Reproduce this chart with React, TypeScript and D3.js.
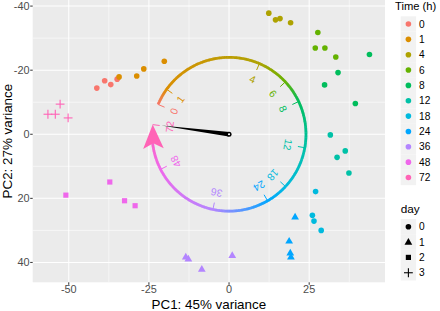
import React from 'react';
import * as d3 from 'd3';

const timeLevels = ['0', '1', '4', '6', '8', '12', '18', '24', '36', '48', '72'];
const timeColors = ['#F8766D', '#DB8E00', '#AEA200', '#64B200', '#00BD5C', '#00C1A7', '#00BADE', '#00A6FF', '#B385FF', '#EF67EB', '#FF63B6'];
const dayLevels = ['0', '1', '2', '3'];

// each sample: time level index, day, PC1, PC2
const sampleTime = [0, 0, 0, 0, 1, 1, 1, 1, 2, 2, 2, 2, 3, 3, 3, 3, 4, 4, 4, 4, 5, 5, 5, 5, 6, 6, 6, 6, 7, 7, 7, 7, 8, 8, 8, 8, 9, 9, 9, 9, 10, 10, 10, 10];
const sampleDay = [0, 0, 0, 0, 0, 0, 0, 0, 0, 0, 0, 0, 0, 0, 0, 0, 0, 0, 0, 0, 0, 0, 0, 0, 0, 0, 0, 0, 1, 1, 1, 1, 1, 1, 1, 1, 2, 2, 2, 2, 3, 3, 3, 3];
const samplePC1 = [-41.25, -38.8, -36.9, -34.9, -34.3, -28.8, -26.6, -20.2, 12.4, 14.5, 15.9, 19.2, 27.7, 26.9, 29.9, 33.3, 34.0, 29.8, 39.4, 43.8, 31.6, 36.25, 33.7, 37.4, 27.0, 26.0, 26.5, 28.75, 20.6, 18.75, 19.1, 19.3, -13.5, -12.7, -8.5, 1.0, -50.9, -37.2, -32.6, -29.3, -56.5, -54.2, -52.7, -50.2];
const samplePC2 = [-14.4, -16.7, -15.5, -17.2, -17.9, -18.2, -20.4, -22.8, -37.8, -35.7, -36.1, -34.8, -31.75, -26.9, -26.9, -24.1, -19.25, -15.4, -9.6, -24.9, 0.2, 5.2, 7.2, 12.1, 17.9, 25.3, 27.1, 30.0, 25.75, 33.3, 37.0, 38.25, 38.25, 38.9, 42.1, 37.8, 19.0, 14.9, 20.75, 22.3, -6.25, -6.25, -9.4, -5.1];

const xTicks = [-50, -25, 0, 25];
const xMinor = [-37.5, -12.5, 12.5, 37.5];
const yTicks = [-40, -20, 0, 20, 40];
const yMinor = [-30, -10, 10, 30];

const clockRadius = 24;
const needleTip = [-21.1, -2.7];

const xLabel = 'PC1: 45% variance';
const yLabel = 'PC2: 27% variance';
const timeTitle = 'Time (h)';
const dayTitle = 'day';

const FONT = '"Liberation Sans", Arial, Helvetica, sans-serif';

const P = { left: 32.7, right: 385, top: 0, bottom: 282.3 };
const x = d3.scaleLinear().domain([-61.25, 48.65]).range([P.left, P.right]);
const y = d3.scaleLinear().domain([-41.9, 46.2]).range([P.top, P.bottom]);

function Mark({ day, cx, cy, color }: { day: number; cx: number; cy: number; color: string }) {
  if (day === 0) return <circle cx={cx} cy={cy} r={2.8} fill={color} />;
  if (day === 1) {
    const p = d3.symbol().type(d3.symbolTriangle).size(26)()!;
    return <path d={p} transform={`translate(${cx},${cy + 0.4})`} fill={color} />;
  }
  if (day === 2) {
    const p = d3.symbol().type(d3.symbolSquare).size(27)()!;
    return <path d={p} transform={`translate(${cx},${cy})`} fill={color} />;
  }
  const h = 4.4;
  return (
    <g stroke={color} strokeWidth={1.1}>
      <line x1={cx - h} x2={cx + h} y1={cy} y2={cy} />
      <line x1={cx} x2={cx} y1={cy - h} y2={cy + h} />
    </g>
  );
}

export default function App() {
  const deg = Math.PI / 180;
  // centroid angle for each time level (screen-up = negative PC2)
  const angles = timeLevels.map((_, i) => {
    const idx = sampleTime.map((t, j) => (t === i ? j : -1)).filter((j) => j >= 0);
    const mx = d3.mean(idx, (j) => samplePC1[j])!;
    const my = d3.mean(idx, (j) => samplePC2[j])!;
    return Math.atan2(-my, mx) / deg;
  });
  const a0 = angles[0];
  const sweeps = angles.map((a) => (((a0 - a) % 360) + 360) % 360);
  const sEnd = sweeps[sweeps.length - 1];

  const polar = (s: number, r: number) => {
    const th = (a0 - s) * deg;
    return [x(r * Math.cos(th)), y(-r * Math.sin(th))];
  };
  const colorAt = (s: number) => {
    for (let i = 0; i < sweeps.length - 1; i++) {
      if (s <= sweeps[i + 1]) {
        const t = (s - sweeps[i]) / (sweeps[i + 1] - sweeps[i]);
        return d3.interpolateRgb(timeColors[i], timeColors[i + 1])(Math.max(0, Math.min(1, t)));
      }
    }
    return timeColors[timeColors.length - 1];
  };

  const pxPerUnit = x(1) - x(0);
  const Rpx = clockRadius * pxPerUnit;
  const headLen = 24;
  const headHalf = 10.3;
  const arcStop = sEnd - (headLen * 0.6) / Rpx / deg;
  const N = 360;
  const segs: { d: string; c: string }[] = [];
  for (let k = 0; k < N; k++) {
    const s1 = (arcStop * k) / N;
    const s2 = Math.min(arcStop, (arcStop * (k + 1)) / N + 0.4);
    const [x1, y1] = polar(s1, clockRadius);
    const [x2, y2] = polar(s2, clockRadius);
    segs.push({ d: `M${x1},${y1}L${x2},${y2}`, c: colorAt((s1 + s2) / 2) });
  }

  // arrow head
  const [tx, ty] = polar(sEnd, clockRadius);
  const [bx, by] = polar(sEnd - headLen / Rpx / deg, clockRadius);
  const ul = Math.hypot(tx - bx, ty - by);
  const ux = (tx - bx) / ul, uy = (ty - by) / ul;
  const nx = -uy, ny = ux;
  const head = [
    [tx, ty],
    [tx - ux * headLen + nx * headHalf, ty - uy * headLen + ny * headHalf],
    [tx - ux * headLen * 0.78, ty - uy * headLen * 0.78],
    [tx - ux * headLen - nx * headHalf, ty - uy * headLen - ny * headHalf],
  ];

  // needle
  const ox = x(0), oy = y(0);
  const nX = x(needleTip[0]), nY = y(needleTip[1]);
  const nl = Math.hypot(nX - ox, nY - oy);
  const vx = -(nY - oy) / nl, vy = (nX - ox) / nl;
  const needleW = 2.2;

  const tickLen = 7 / pxPerUnit;
  const labelR = 18.6;

  const legendX = 400.7;
  const keySize = 15.4;
  const timeRow0 = 24;
  const dayRow0 = 226.7;
  const rowStep = 15.35;

  return (
    <svg width={440} height={311} style={{ position: 'absolute', left: 0, top: 0 }} fontFamily={FONT}>
      <rect x={0} y={0} width={440} height={311} fill="#ffffff" />
      <rect x={P.left} y={P.top} width={P.right - P.left} height={P.bottom - P.top} fill="#EBEBEB" />
      {xMinor.map((v) => (
        <line key={'xm' + v} x1={x(v)} x2={x(v)} y1={P.top} y2={P.bottom} stroke="#fff" strokeWidth={0.55} />
      ))}
      {yMinor.map((v) => (
        <line key={'ym' + v} y1={y(v)} y2={y(v)} x1={P.left} x2={P.right} stroke="#fff" strokeWidth={0.55} />
      ))}
      {xTicks.map((v) => (
        <line key={'xg' + v} x1={x(v)} x2={x(v)} y1={P.top} y2={P.bottom} stroke="#fff" strokeWidth={1.05} />
      ))}
      {yTicks.map((v) => (
        <line key={'yg' + v} y1={y(v)} y2={y(v)} x1={P.left} x2={P.right} stroke="#fff" strokeWidth={1.05} />
      ))}

      {/* points */}
      {samplePC1.map((v, i) => (
        <Mark key={'p' + i} day={sampleDay[i]} cx={x(v)} cy={y(samplePC2[i])} color={timeColors[sampleTime[i]]} />
      ))}

      {/* clock arc */}
      {segs.map((s, i) => (
        <path key={'s' + i} d={s.d} stroke={s.c} strokeWidth={2.7} fill="none" />
      ))}
      <polygon points={head.map((p) => p.join(',')).join(' ')} fill={timeColors[timeColors.length - 1]} />

      {/* ticks and labels */}
      {timeLevels.map((t, i) => {
        const [x1, y1] = polar(sweeps[i], clockRadius);
        const [x2, y2] = polar(sweeps[i], clockRadius - tickLen);
        const [lx, ly] = polar(sweeps[i], labelR);
        const th = a0 - sweeps[i];
        return (
          <g key={'t' + t}>
            <line x1={x1} y1={y1} x2={x2} y2={y2} stroke={timeColors[i]} strokeWidth={1} />
            <text
              x={0}
              y={0}
              transform={`translate(${lx},${ly}) rotate(${90 - th})`}
              textAnchor="middle"
              dominantBaseline="central"
              fontSize={10.3}
              fill={timeColors[i]}
            >
              {t}
            </text>
          </g>
        );
      })}

      {/* needle */}
      <polygon
        points={`${nX},${nY} ${ox + vx * needleW},${oy + vy * needleW} ${ox - vx * needleW},${oy - vy * needleW}`}
        fill="#000"
      />
      <circle cx={ox} cy={oy} r={2.5} fill="#000" />
      <circle cx={ox} cy={oy} r={1.1} fill="#fff" />

      {/* axes */}
      {xTicks.map((v) => (
        <g key={'xt' + v}>
          <line x1={x(v)} x2={x(v)} y1={P.bottom} y2={P.bottom + 2.5} stroke="#333" strokeWidth={1} />
          <text x={x(v)} y={P.bottom + 11} textAnchor="middle" fontSize={10.9} fill="#4D4D4D">
            {String(v)}
          </text>
        </g>
      ))}
      {yTicks.map((v) => (
        <g key={'yt' + v}>
          <line x1={P.left - 2.5} x2={P.left} y1={y(v)} y2={y(v)} stroke="#333" strokeWidth={1} />
          <text x={P.left - 3.2} y={y(v) + 3.9} textAnchor="end" fontSize={10.9} fill="#4D4D4D">
            {String(v)}
          </text>
        </g>
      ))}
      <text x={(P.left + P.right) / 2} y={308.5} textAnchor="middle" fontSize={13.4} fill="#000">
        {xLabel}
      </text>
      <text
        transform={`translate(11.7,${(P.top + P.bottom) / 2}) rotate(-90)`}
        textAnchor="middle"
        fontSize={13.4}
        fill="#000"
      >
        {yLabel}
      </text>

      {/* legend: time */}
      <text x={395} y={9.5} fontSize={11.2} fill="#000">
        {timeTitle}
      </text>
      {timeLevels.map((t, i) => {
        const cy = timeRow0 + i * rowStep;
        return (
          <g key={'lt' + t}>
            <rect x={legendX} y={cy - keySize / 2} width={keySize} height={keySize} fill="#F2F2F2" />
            <circle cx={legendX + keySize / 2} cy={cy} r={2.8} fill={timeColors[i]} />
            <text x={legendX + keySize + 3} y={cy + 3.6} fontSize={10.2} fill="#000">
              {t}
            </text>
          </g>
        );
      })}
      {/* legend: day */}
      <text x={legendX} y={213} fontSize={11.8} fill="#000">
        {dayTitle}
      </text>
      {dayLevels.map((d, i) => {
        const cy = dayRow0 + i * rowStep;
        return (
          <g key={'ld' + d}>
            <rect x={legendX} y={cy - keySize / 2} width={keySize} height={keySize} fill="#F2F2F2" />
            <Mark day={i} cx={legendX + keySize / 2} cy={cy} color="#000" />
            <text x={legendX + keySize + 3} y={cy + 3.6} fontSize={10.2} fill="#000">
              {d}
            </text>
          </g>
        );
      })}
    </svg>
  );
}
